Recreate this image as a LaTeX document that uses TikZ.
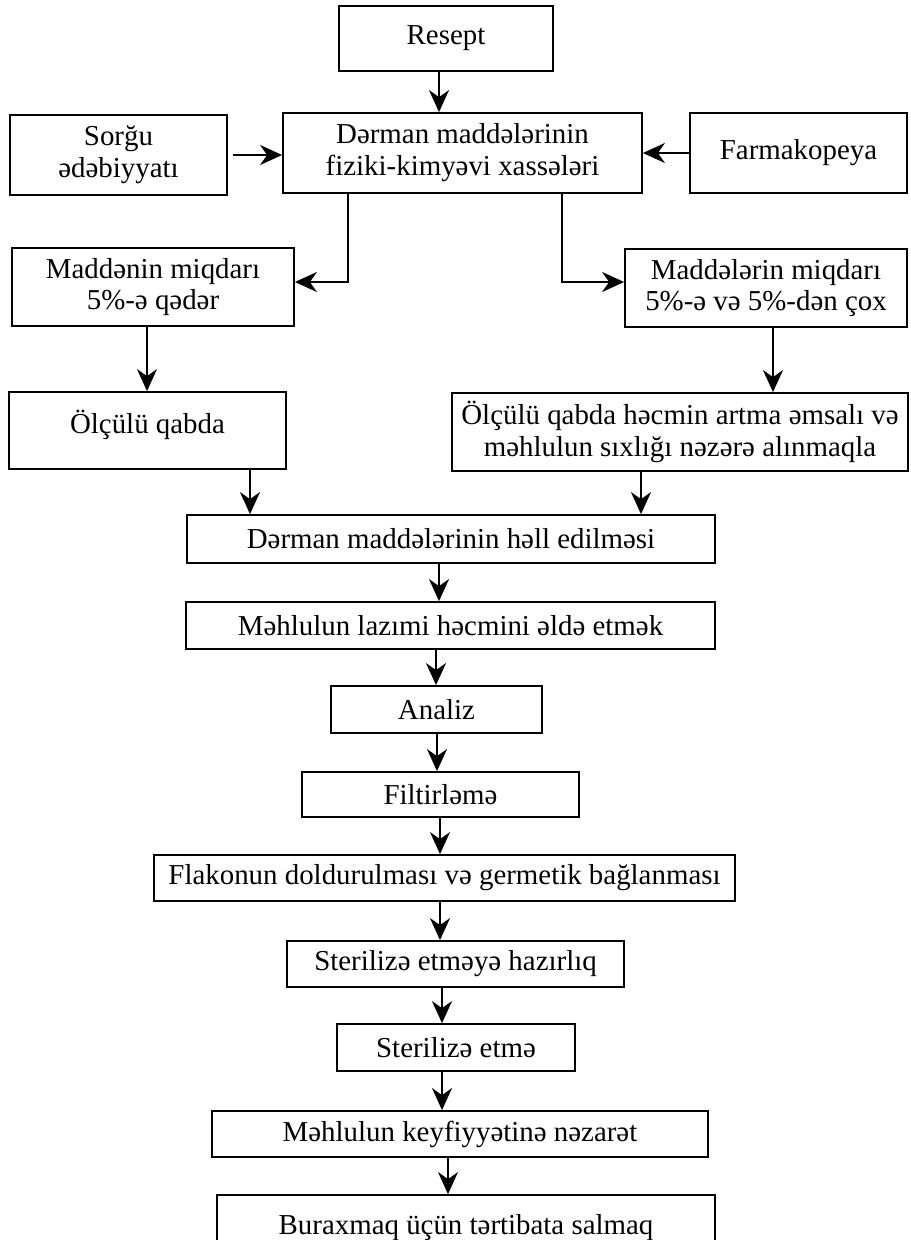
\documentclass[tikz,border=0pt]{standalone}
\usepackage{fontspec}
\setmainfont{Liberation Serif}
\usetikzlibrary{arrows.meta}
\begin{document}
\begin{tikzpicture}[x=1bp,y=-1bp,
  box/.style={draw,line width=1.8bp,inner sep=2bp,align=center,
    font=\fontsize{29}{32}\selectfont},
  arr/.style={line width=1.8bp,-{Stealth[length=22bp,width=20bp,inset=7bp]}}]
\useasboundingbox (0,0) rectangle (911,1240);
\clip (0,0) rectangle (911,1240);
% boxes
\node[box,minimum width=214bp,minimum height=65bp] (resept) at (446,38.5) {Resept};
\node[box,minimum width=217bp,minimum height=80bp] (sorgu) at (118.5,155) {Sorğu\\ədəbiyyatı};
\node[box,minimum width=359bp,minimum height=80bp] (props) at (462.5,153) {Dərman maddələrinin\\fiziki-kimyəvi xassələri};
\node[box,minimum width=217bp,minimum height=80bp] (farm) at (798.5,153) {Farmakopeya};
\node[box,minimum width=282bp,minimum height=78bp] (madL) at (153,287) {Maddənin miqdarı\\5\%-ə qədər};
\node[box,minimum width=282bp,minimum height=78bp] (madR) at (766,288) {Maddələrin miqdarı\\5\%-ə və 5\%-dən çox};
\node[box,minimum width=277bp,minimum height=77bp] (olcL) at (147.5,430.5) {\raisebox{18bp}{Ölçülü qabda}};
\node[box,minimum width=456bp,minimum height=78bp,inner sep=0bp] (olcR) at (680,432) {Ölçülü qabda həcmin artma əmsalı və\\məhlulun sıxlığı nəzərə alınmaqla};
\node[box,minimum width=528bp,minimum height=48bp] (hell) at (451,539) {Dərman maddələrinin həll edilməsi};
\node[box,minimum width=529bp,minimum height=47bp] (lazimi) at (450.5,625.5) {Məhlulun lazımi həcmini əldə etmək};
\node[box,minimum width=211bp,minimum height=47bp] (analiz) at (436.5,709.5) {Analiz};
\node[box,minimum width=277bp,minimum height=45bp] (filtr) at (440.5,794.5) {Filtirləmə};
\node[box,minimum width=581bp,minimum height=46bp] (flakon) at (444.5,878) {Flakonun doldurulması və germetik bağlanması};
\node[box,minimum width=337bp,minimum height=46bp] (sterH) at (455.5,964) {Sterilizə etməyə hazırlıq};
\node[box,minimum width=238bp,minimum height=47bp] (sterE) at (456,1047.5) {Sterilizə etmə};
\node[box,minimum width=496bp,minimum height=46bp] (keyf) at (460,1134) {Məhlulun keyfiyyətinə nəzarət};
\node[box,minimum width=498bp,minimum height=66bp] (burax) at (466,1228) {Buraxmaq üçün tərtibata salmaq};
% connectors
\draw[arr] ([xshift=-7bp]resept.south) -- ([xshift=-7bp]resept.south |- props.north);
\draw[arr] ([xshift=5bp]sorgu.east) -- (sorgu.east -| props.west);
\draw[arr] (farm.west) -- (farm.west -| props.east);
\draw[arr] ([xshift=-114.5bp]props.south) |- ([yshift=5bp]madL.east);
\draw[arr] ([xshift=99.5bp]props.south) |- ([yshift=6bp]madR.west);
\draw[arr] ([xshift=-6bp]madL.south) -- ([xshift=-6bp]madL.south |- olcL.north);
\draw[arr] ([xshift=7bp]madR.south) -- ([xshift=7bp]madR.south |- olcR.north);
\draw[arr] ([xshift=102.5bp]olcL.south) -- ([xshift=102.5bp]olcL.south |- hell.north);
\draw[arr] ([xshift=-39bp]olcR.south) -- ([xshift=-39bp]olcR.south |- hell.north);
\draw[arr] ([xshift=-12bp]hell.south) -- ([xshift=-12bp]hell.south |- lazimi.north);
\draw[arr] ([xshift=-14.5bp]lazimi.south) -- ([xshift=-14.5bp]lazimi.south |- analiz.north);
\draw[arr] ([xshift=0.5bp]analiz.south) -- ([xshift=0.5bp]analiz.south |- filtr.north);
\draw[arr] ([xshift=-0.5bp]filtr.south) -- ([xshift=-0.5bp]filtr.south |- flakon.north);
\draw[arr] ([xshift=-4.5bp]flakon.south) -- ([xshift=-4.5bp]flakon.south |- sterH.north);
\draw[arr] ([xshift=-13.5bp]sterH.south) -- ([xshift=-13.5bp]sterH.south |- sterE.north);
\draw[arr] ([xshift=-14bp]sterE.south) -- ([xshift=-14bp]sterE.south |- keyf.north);
\draw[arr] ([xshift=-12bp]keyf.south) -- ([xshift=-12bp]keyf.south |- burax.north);
\end{tikzpicture}
\end{document}
